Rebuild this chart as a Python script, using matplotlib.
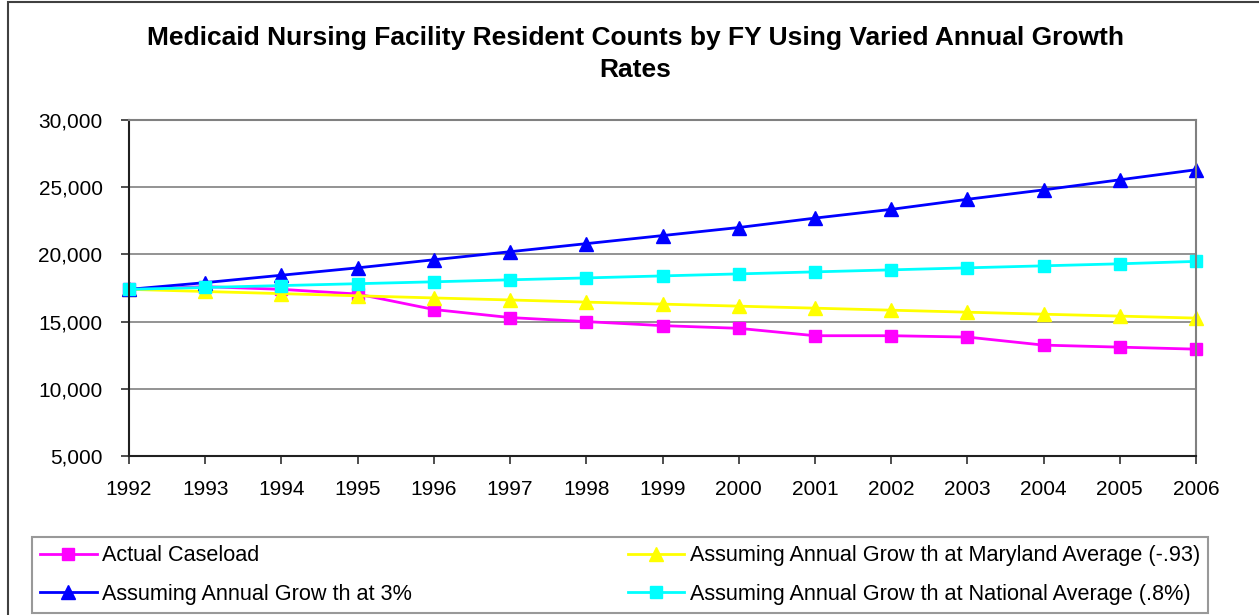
import matplotlib
matplotlib.use("Agg")
import matplotlib.pyplot as plt
from matplotlib.patches import Rectangle
from matplotlib.ticker import FuncFormatter

plt.rcParams['font.family'] = ['Liberation Sans', 'DejaVu Sans']

# valores
anos = list(range(1992, 2007))
caseload_real = [17400, 17600, 17400, 17050, 15900, 15300, 15000, 14700, 14500,
                 13950, 13950, 13850, 13250, 13100, 12950]
cresc_maryland = [17400, 17240, 17080, 16920, 16760, 16610, 16450, 16300, 16150,
                  16000, 15850, 15700, 15550, 15410, 15260]
cresc_3pct = [17400, 17900, 18450, 19000, 19600, 20200, 20800, 21400, 22000,
              22700, 23350, 24100, 24800, 25550, 26300]
cresc_nacional = [17400, 17540, 17680, 17820, 17960, 18110, 18250, 18400, 18550,
                  18700, 18850, 19000, 19150, 19300, 19480]

series = [
    ('Actual Caseload', caseload_real, '#FF00FF', 's'),
    ('Assuming Annual Grow th at Maryland Average (-.93)', cresc_maryland, '#FFFF00', '^'),
    ('Assuming Annual Grow th at 3%', cresc_3pct, '#0000FF', '^'),
    ('Assuming Annual Grow th at National Average (.8%)', cresc_nacional, '#00FFFF', 's'),
]

W, H = 1259, 615
fig = plt.figure(figsize=(W / 100, H / 100), dpi=100)
ax = fig.add_axes([129 / W, 1 - 456 / H, (1196 - 129) / W, (456 - 120) / H])

linhas = {}
for nome, valores, cor, marc in series:
    ms = 10.5 if marc == '^' else 8.5
    l, = ax.plot(anos, valores, color=cor, marker=marc, markersize=ms,
                 linewidth=2, label=nome, clip_on=False)
    linhas[nome] = l

ax.set_xlim(1992, 2006)
ax.set_ylim(5000, 30000)
ax.set_xticks(anos)
ax.set_yticks(range(5000, 30001, 5000))
ax.yaxis.set_major_formatter(FuncFormatter(lambda v, p: f'{int(v):,}'))
ax.tick_params(axis='both', direction='out', length=6, width=1.2,
               labelsize=15, color='#303030')
ax.tick_params(axis='y', pad=13)
ax.tick_params(axis='x', pad=11)
ax.grid(axis='y', color='#808080', linewidth=1.2)
ax.set_axisbelow(True)
for lado in ['top', 'right']:
    ax.spines[lado].set_color('#808080')
    ax.spines[lado].set_linewidth(1.5)
for lado in ['left', 'bottom']:
    ax.spines[lado].set_color('#202020')
    ax.spines[lado].set_linewidth(1.5)

fig.text(635 / W, 1 - 54 / H,
         'Medicaid Nursing Facility Resident Counts by FY Using Varied Annual Growth\nRates',
         ha='center', va='center', fontsize=19, fontweight='bold', linespacing=1.4)

# legenda: ordem de preenchimento por colunas
ordem = ['Actual Caseload', 'Assuming Annual Grow th at 3%',
         'Assuming Annual Grow th at Maryland Average (-.93)',
         'Assuming Annual Grow th at National Average (.8%)']
leg = fig.legend([linhas[n] for n in ordem], ordem, ncol=2, mode='expand',
                 loc='lower left',
                 bbox_to_anchor=(32 / W, 2 / H, (1208 - 32) / W, 75 / H),
                 fontsize=15.6, frameon=True, fancybox=False, borderaxespad=0,
                 handlelength=2.6, handletextpad=0.25, labelspacing=0.8,
                 borderpad=0.38)
leg.get_frame().set_edgecolor('#808080')
leg.get_frame().set_linewidth(1.5)

# moldura externa da área do gráfico
fig.patches.append(Rectangle((8 / W, -0.5), 2, 1.5 - 1.5 / H, transform=fig.transFigure,
                             fill=False, edgecolor='#404040', linewidth=1.5))

fig.savefig('out.png', dpi=100)
